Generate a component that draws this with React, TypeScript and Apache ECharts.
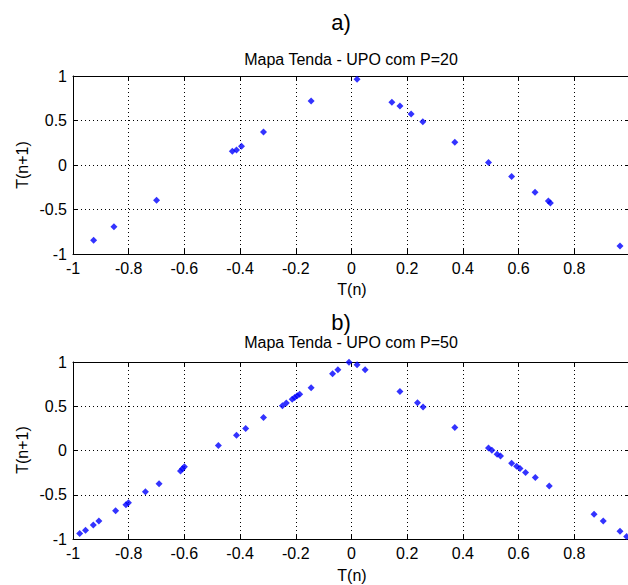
import React, { useEffect, useRef } from "react";
import * as echarts from "echarts";

// Panel a) UPO period 20 : T(n) vs T(n+1)
const tn20 = [-0.926, -0.853, -0.70, -0.428, -0.413, -0.395, -0.316, -0.145, 0.020, 0.145, 0.174, 0.214, 0.256, 0.371, 0.492, 0.575, 0.659, 0.707, 0.714, 0.964];
const tn1_20 = [-0.846, -0.694, -0.397, 0.154, 0.169, 0.210, 0.370, 0.720, 0.963, 0.704, 0.663, 0.573, 0.487, 0.255, 0.027, -0.130, -0.307, -0.404, -0.427, -0.910];

// Panel b) UPO period 50
const tn50 = [-0.976, -0.955, -0.927, -0.907, -0.847, -0.810, -0.801, -0.740, -0.691, -0.614, -0.607, -0.600, -0.478, -0.413, -0.380, -0.316, -0.248, -0.234, -0.213, -0.204, -0.195, -0.186, -0.145, -0.068, -0.049, -0.009, 0.020, 0.049, 0.174, 0.237, 0.257, 0.371, 0.492, 0.504, 0.523, 0.535, 0.575, 0.593, 0.605, 0.625, 0.660, 0.710, 0.871, 0.904, 0.964, 0.988];
const tn1_50 = [-0.939, -0.900, -0.841, -0.796, -0.680, -0.612, -0.590, -0.466, -0.376, -0.233, -0.207, -0.185, 0.056, 0.172, 0.248, 0.372, 0.507, 0.536, 0.578, 0.600, 0.619, 0.637, 0.709, 0.867, 0.912, 0.998, 0.968, 0.912, 0.668, 0.540, 0.491, 0.259, 0.029, 0.003, -0.042, -0.061, -0.143, -0.177, -0.203, -0.248, -0.304, -0.402, -0.721, -0.796, -0.912, -0.973];

const panelLabels = ["a)", "b)"];
const panelTitles = ["Mapa Tenda - UPO com P=20", "Mapa Tenda - UPO com P=50"];
const xName = "T(n)";
const yName = "T(n+1)";

const FONT = "'Liberation Sans', Arial, Helvetica, sans-serif";

export default function App() {
  const ref = useRef<HTMLDivElement>(null);
  useEffect(() => {
    if (!ref.current) return;
    const chart = echarts.init(ref.current, undefined, { renderer: "svg" });
    const grids = [
      { left: 73, right: 10, top: 76, height: 178 },
      { left: 73, right: 10, top: 362, height: 177 },
    ];
    const xFmt = (v: number) => (Math.abs(v - 1) < 1e-9 ? "" : String(parseFloat(v.toFixed(1))));
    const yFmt = (v: number) => String(parseFloat(v.toFixed(1)));
    const xAxes: any[] = [];
    const yAxes: any[] = [];
    grids.forEach((_, i) => {
      const common = {
        gridIndex: i,
        type: "value",
        min: -1,
        max: 1,
        axisLine: { show: true, onZero: false, lineStyle: { color: "#000", width: 1 } },
        axisTick: { show: true, inside: true, length: 5, lineStyle: { color: "#000" } },
      };
      xAxes.push({
        ...common,
        position: "bottom",
        interval: 0.2,
        axisLabel: { formatter: xFmt, color: "#000", fontFamily: FONT, fontSize: 16, margin: 6, showMaxLabel: true, showMinLabel: true },
        splitLine: { show: true, lineStyle: { color: "#000", type: [1, 3], width: 1 } },
      });
      xAxes.push({
        ...common,
        position: "top",
        interval: 0.2,
        axisLabel: { show: false },
        splitLine: { show: false },
      });
      yAxes.push({
        ...common,
        position: "left",
        interval: 0.5,
        axisLabel: { formatter: yFmt, color: "#000", fontFamily: FONT, fontSize: 16, margin: 6, showMaxLabel: true, showMinLabel: true },
        splitLine: { show: true, lineStyle: { color: "#000", type: [1, 3], width: 1 } },
      });
      yAxes.push({
        ...common,
        position: "right",
        interval: 0.5,
        axisLabel: { show: false },
        splitLine: { show: false },
      });
    });
    const mk = (xs: number[], ys: number[]) => xs.map((x, k) => [x, ys[k]]);
    const series = [
      { data: mk(tn20, tn1_20), idx: 0 },
      { data: mk(tn50, tn1_50), idx: 1 },
    ].map((s) => ({
      type: "scatter",
      xAxisIndex: s.idx * 2,
      yAxisIndex: s.idx * 2,
      data: s.data,
      symbol: "diamond",
      symbolSize: 7,
      itemStyle: { color: "#0000ff" },
      silent: true,
    }));
    const txt = (text: string, x: number, y: number, size: number, rotation = 0) => ({
      type: "text",
      x,
      y,
      rotation,
      style: {
        text,
        fill: "#000",
        font: `${size}px ${FONT}`,
        textAlign: "center",
        textVerticalAlign: "middle",
      },
    });
    const graphic: any[] = [
      txt(panelLabels[0], 341, 22, 22),
      txt(panelTitles[0], 351, 59, 16),
      txt(xName, 352, 289, 16),
      txt(yName, 22, 165, 16, Math.PI / 2),
      txt(panelLabels[1], 341, 322, 22),
      txt(panelTitles[1], 351, 342, 16),
      txt(xName, 352, 575, 16),
      txt(yName, 22, 450, 16, Math.PI / 2),
    ];
    chart.setOption({
      animation: false,
      grid: grids,
      xAxis: xAxes,
      yAxis: yAxes,
      series,
      graphic,
    });
    return () => chart.dispose();
  }, []);
  return (
    <div style={{ position: "fixed", left: 0, top: 0, width: 628, height: 585, overflow: "hidden", background: "#fff" }}>
      <div ref={ref} style={{ width: 640, height: 585 }} />
    </div>
  );
}
